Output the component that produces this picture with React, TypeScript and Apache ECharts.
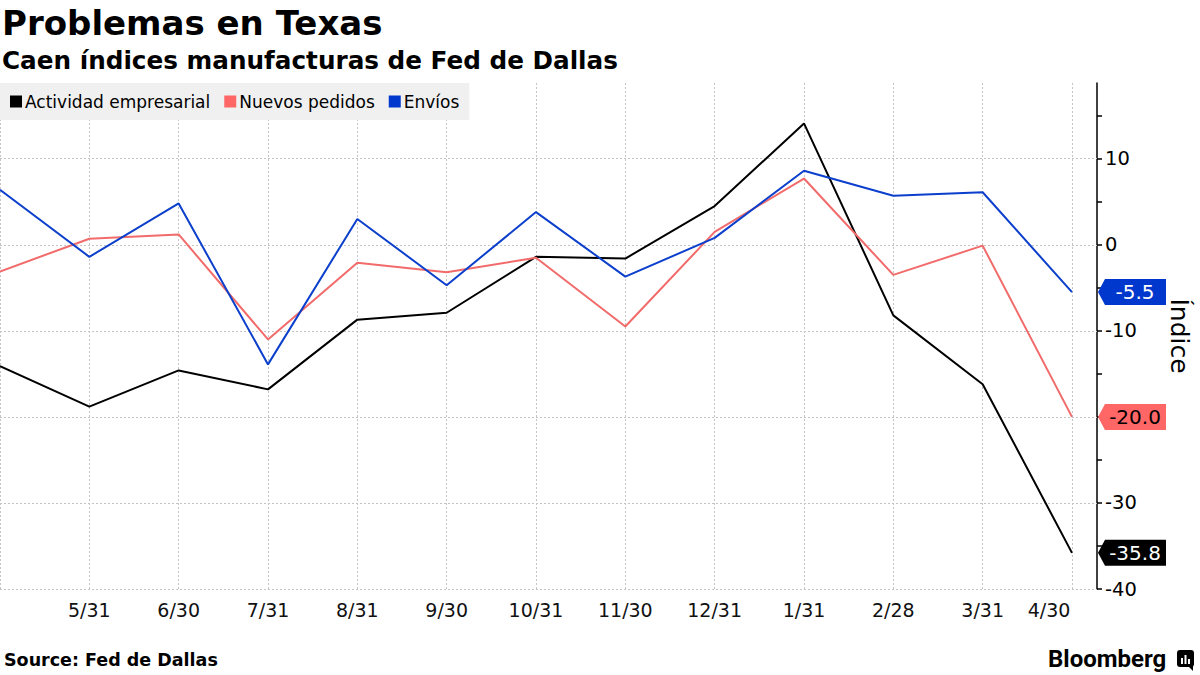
import React, { useEffect, useRef } from "react";
import * as echarts from "echarts";

const monthLabels = ["4/30", "5/31", "6/30", "7/31", "8/31", "9/30", "10/31", "11/30", "12/31", "1/31", "2/28", "3/31", "4/30"];
const actividad = [-14.1, -18.8, -14.6, -16.8, -8.7, -7.9, -1.4, -1.6, 4.5, 14.1, -8.2, -16.2, -35.8];
const pedidos = [-3.1, 0.7, 1.2, -11.0, -2.1, -3.2, -1.5, -9.5, 1.5, 7.7, -3.5, -0.1, -20.0];
const envios = [6.4, -1.4, 4.8, -13.9, 3.0, -4.7, 3.8, -3.7, 0.8, 8.6, 5.7, 6.1, -5.5];
const gridValues = [-40, -30, -20, -10, 0, 10];
const shownTickLabels = [-40, -30, -10, 0, 10];

const FONT = "DejaVu Sans";
const X_MAX = 12.28;

export default function App() {
  const ref = useRef<HTMLDivElement>(null);
  useEffect(() => {
    if (!ref.current) return;
    const chart = echarts.init(ref.current, undefined, { renderer: "svg" });
    const toPts = (arr: number[]) => arr.map((v, i) => [i, v]);
    const endBox = (value: number, bg: string, fg: string) => ({
      symbol: "path://M0,13 L7,0 L68,0 L68,26 L7,26 Z",
      symbolSize: [68, 26],
      symbolOffset: [35, 0],
      silent: true,
      data: [{ coord: [X_MAX, value], value }],
      itemStyle: { color: bg },
      label: {
        show: true,
        position: "inside",
        offset: [3, 0],
        color: fg,
        fontFamily: FONT,
        fontSize: 20,
        formatter: (p: any) => Number(p.value).toFixed(1),
      },
    });
    const lastIdx = monthLabels.length - 1;
    const option: any = {
      animation: false,
      backgroundColor: "#ffffff",
      title: [
        {
          text: "Problemas en Texas",
          left: 2,
          top: 6,
          padding: 0,
          textStyle: { fontFamily: FONT, fontWeight: "bold", fontSize: 34, color: "#000" },
        },
        {
          text: "Caen índices manufacturas de Fed de Dallas",
          left: 2,
          top: 48,
          padding: 0,
          textStyle: { fontFamily: FONT, fontWeight: "bold", fontSize: 24.7, color: "#000" },
        },
        {
          text: "Source: Fed de Dallas",
          left: 4,
          top: 651,
          padding: 0,
          textStyle: { fontFamily: FONT, fontWeight: "bold", fontSize: 17.5, color: "#000" },
        },
      ],
      legend: {
        left: 0,
        top: 83,
        padding: [10, 10, 10, 10],
        itemGap: 14,
        itemWidth: 12,
        itemHeight: 12,
        icon: "rect",
        backgroundColor: "#f0f0f0",
        textStyle: { fontFamily: FONT, fontSize: 17, color: "#000", padding: [0, 0, 0, -2] },
        data: [
          { name: "Actividad empresarial", itemStyle: { color: "#000000" } },
          { name: "Nuevos pedidos", itemStyle: { color: "#ff6666" } },
          { name: "Envíos", itemStyle: { color: "#0037cc" } },
        ],
      },
      grid: { left: 0, right: 98, top: 83, bottom: 86, containLabel: false },
      xAxis: {
        type: "value",
        min: 0,
        max: X_MAX,
        interval: 1,
        axisLine: { show: false },
        axisTick: { show: false },
        axisLabel: {
          show: true,
          margin: 11,
          fontFamily: FONT,
          fontSize: 19,
          color: "#111",
          showMinLabel: false,
          formatter: (v: number) => {
            if (!Number.isInteger(v) || v <= 0 || v > lastIdx) return "";
            return v === lastIdx ? "{last|" + monthLabels[v] + "}" : monthLabels[v];
          },
          rich: {
            last: { fontFamily: FONT, fontSize: 19, color: "#111", padding: [0, 46, 0, 0] },
          },
        },
        splitLine: {
          show: true,
          showMaxLine: false,
          lineStyle: { color: "#c4c4c4", type: [2, 2], width: 1 },
        },
      },
      yAxis: {
        type: "value",
        position: "right",
        min: -40,
        max: 18.8,
        interval: 5,
        name: "Índice",
        nameLocation: "middle",
        nameRotate: -90,
        nameGap: 70,
        nameTextStyle: { fontFamily: FONT, fontSize: 25, color: "#000" },
        axisLine: { show: true, onZero: false, lineStyle: { color: "#000", width: 1.5 } },
        axisTick: { show: true, inside: false, length: 5, lineStyle: { color: "#000", width: 1.5 } },
        axisLabel: {
          show: true,
          margin: 8,
          fontFamily: FONT,
          fontSize: 19.5,
          color: "#000",
          showMaxLabel: false,
          formatter: (v: number) => (shownTickLabels.indexOf(v) >= 0 ? String(v) : ""),
        },
        splitLine: { show: false },
      },
      series: [
        {
          name: "Actividad empresarial",
          type: "line",
          data: toPts(actividad),
          symbol: "none",
          clip: false,
          z: 3,
          lineStyle: { color: "#000000", width: 2 },
          itemStyle: { color: "#000000" },
          markPoint: endBox(actividad[actividad.length - 1], "#000000", "#ffffff"),
          markLine: {
            silent: true,
            symbol: ["none", "none"],
            label: { show: false },
            z: 1,
            lineStyle: { color: "#c4c4c4", type: [2, 2], width: 1 },
            data: gridValues.map((v) => ({ yAxis: v })),
          },
        },
        {
          name: "Nuevos pedidos",
          type: "line",
          data: toPts(pedidos),
          symbol: "none",
          clip: false,
          z: 3,
          lineStyle: { color: "#f26b6b", width: 2 },
          itemStyle: { color: "#ff6666" },
          markPoint: endBox(pedidos[pedidos.length - 1], "#ff6666", "#000000"),
        },
        {
          name: "Envíos",
          type: "line",
          data: toPts(envios),
          symbol: "none",
          clip: false,
          z: 3,
          lineStyle: { color: "#0b3fcc", width: 2 },
          itemStyle: { color: "#0037cc" },
          markPoint: endBox(envios[envios.length - 1], "#0037cc", "#ffffff"),
        },
      ],
      graphic: [
        {
          type: "text",
          left: 1048,
          top: 647,
          style: { text: "Bloomberg", fontFamily: "Roboto", fontWeight: "bold", fontSize: 24, fill: "#000" },
        },
        {
          type: "group",
          left: 1177,
          top: 650,
          children: [
            { type: "rect", shape: { x: 0, y: 0, width: 17, height: 17, r: 3 }, style: { fill: "#000" } },
            { type: "polygon", shape: { points: [[11, 16], [16, 16], [16, 21]] }, style: { fill: "#000" } },
            { type: "rect", shape: { x: 4, y: 8, width: 2, height: 6 }, style: { fill: "#fff" } },
            { type: "rect", shape: { x: 7.5, y: 5, width: 2, height: 9 }, style: { fill: "#fff" } },
            { type: "rect", shape: { x: 11, y: 9, width: 2, height: 5 }, style: { fill: "#fff" } },
          ],
        },
      ],
    };
    chart.setOption(option);
    return () => chart.dispose();
  }, []);
  return <div ref={ref} style={{ position: "absolute", left: 0, top: 0, width: 1200, height: 675 }} />;
}
